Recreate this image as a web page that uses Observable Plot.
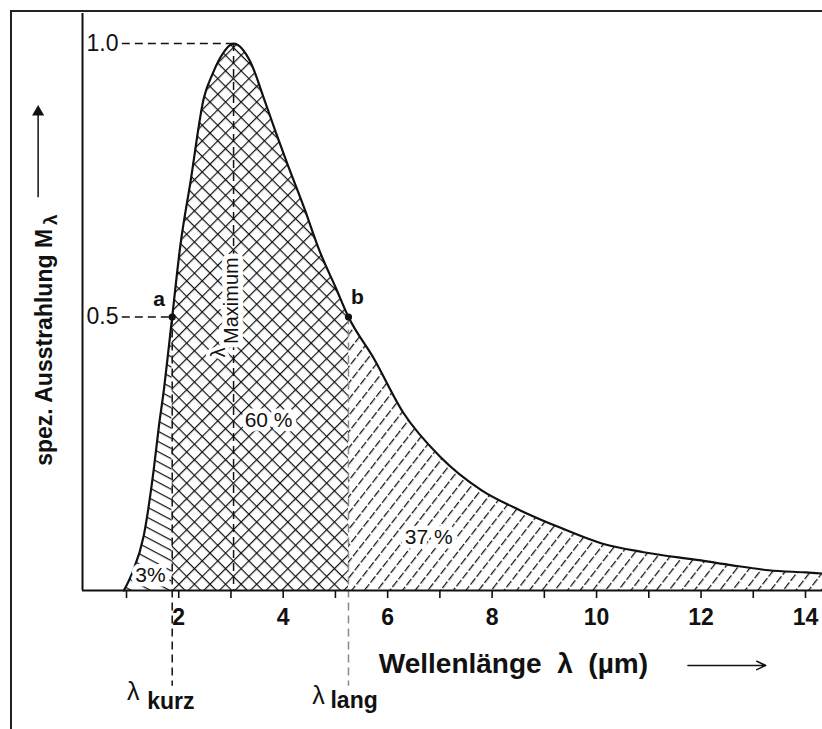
<!DOCTYPE html>
<html><head><meta charset="utf-8">
<script src="https://cdn.jsdelivr.net/npm/d3@7"></script>
<script src="https://cdn.jsdelivr.net/npm/@observablehq/plot@0.6"></script>
<style>
body{margin:0;background:#fff;}
#wrap{position:relative;width:822px;height:729px;overflow:hidden;}
#frame{position:absolute;left:10px;top:10px;right:-4px;bottom:-4px;border-top:2px solid #222;border-left:2px solid #222;pointer-events:none;}
</style></head><body><div id="wrap"><div id="chart"></div><div id="frame"></div></div>
<script>
// Spectral radiant exitance curve (relative)
const wavelength = [0.95, 1.1, 1.33, 1.52, 1.62, 1.72, 1.81, 1.875, 2.03, 2.23, 2.48, 2.65, 2.8, 3.05, 3.38, 3.63, 3.85, 4.08, 4.4, 4.7, 5.0, 5.25, 5.73, 6.3, 7.0, 7.8, 8.55, 9.3, 10.1, 10.9, 12.0, 12.6, 13.3, 14.0, 14.33];
const radiance   = [0, 0.03, 0.1, 0.22, 0.3, 0.37, 0.445, 0.5, 0.63, 0.75, 0.9, 0.945, 0.975, 1.0, 0.965, 0.9, 0.84, 0.78, 0.7, 0.62, 0.555, 0.5, 0.425, 0.325, 0.245, 0.183, 0.146, 0.115, 0.086, 0.07, 0.055, 0.046, 0.037, 0.033, 0.031];

const lambdaKurz = 1.875, lambdaMax = 3.05, lambdaLang = 5.25;
const xTicks = [1,2,3,4,5,6,7,8,9,10,11,12,13,14];
const xTickLabels = ["", "2", "", "4", "", "6", "", "8", "", "10", "", "12", "", "14"];
const yRefValues = [1.0, 0.5];
const yRefLabels = ["1.0", "0.5"];
const pointNames = ["a", "b"];
const pointX = [lambdaKurz, lambdaLang];
const pointY = [0.5, 0.5];
const shareLabels = ["3%", "60 %", "37 %"];
const shareX = [1.46, 3.72, 6.785];
const shareY = [0.027, 0.311, 0.097];

const data = wavelength.map((x, i) => ({x, y: radiance[i]}));
const leftPart = data.filter(d => d.x <= lambdaKurz);
const midPart = data.filter(d => d.x >= lambdaKurz && d.x <= lambdaLang);
const rightPart = data.filter(d => d.x >= lambdaLang);
const points = pointNames.map((n, i) => ({name: n, x: pointX[i], y: pointY[i]}));
const shares = shareLabels.map((t, i) => ({t, x: shareX[i], y: shareY[i]}));
const xDom = [0.1576, 14.3255], yDom = [0, 1.055];
const ink = "#111";
const F = "'Liberation Sans', Arial, Helvetica, sans-serif";

const chart = Plot.plot({
  width: 822, height: 729,
  marginLeft: 82, marginRight: 0, marginTop: 13, marginBottom: 139,
  x: {domain: xDom, axis: null},
  y: {domain: yDom, axis: null},
  style: {fontFamily: F, background: "#fff", color: ink},
  marks: [
    Plot.areaY(leftPart, {x: "x", y: "y", curve: "monotone-x", fill: "url(#hBack)"}),
    Plot.areaY(midPart, {x: "x", y: "y", curve: "monotone-x", fill: "url(#hCross)"}),
    Plot.areaY(rightPart, {x: "x", y: "y", curve: "monotone-x", fill: "url(#hFwd)"}),
    // horizontal reference dashes
    Plot.ruleY(yRefValues.map((v, i) => ({y: v, x2: i === 0 ? lambdaMax : lambdaKurz})),
      {y: "y", x1: 0.92, x2: "x2", stroke: ink, strokeWidth: 1.5, strokeDasharray: "8,5"}),
    // vertical dashes
    Plot.ruleX([lambdaKurz], {y1: 0.5, y2: -0.175, stroke: ink, strokeWidth: 1.5, strokeDasharray: "8,5"}),
    Plot.ruleX([lambdaLang], {y1: 0.5, y2: -0.175, stroke: "#8a8a8a", strokeWidth: 1.5, strokeDasharray: "8,5"}),
    Plot.ruleX([lambdaMax], {y1: 1.0, y2: 0, stroke: ink, strokeWidth: 1.5, strokeDasharray: "8,5"}),
    Plot.line(data, {x: "x", y: "y", curve: "monotone-x", stroke: ink, strokeWidth: 2.2}),
    Plot.ruleY([0], {stroke: ink, strokeWidth: 2}),
    Plot.ruleX([xDom[0]], {stroke: ink, strokeWidth: 2}),
    Plot.axisX({ticks: xTicks, tickSize: 8, tickPadding: 10, strokeWidth: 1.6,
      tickFormat: (d) => xTickLabels[xTicks.indexOf(d)], fontSize: 23, fontWeight: "bold", label: null}),
    Plot.dot(points, {x: "x", y: "y", r: 3.6, fill: ink}),
    Plot.text(points.slice(0, 1), {x: "x", y: "y", text: "name", dx: -13, dy: -18, fontSize: 21, fontWeight: "bold", fill: ink}),
    Plot.text(points.slice(1), {x: "x", y: "y", text: "name", dx: 9, dy: -20, fontSize: 21, fontWeight: "bold", fill: ink}),
    // y reference labels
    Plot.text(yRefValues.map((v, i) => ({y: v, t: yRefLabels[i]})),
      {x: xDom[0], y: "y", text: "t", textAnchor: "start", dx: 4, fontSize: 23, fill: ink}),
    // percentage labels
    Plot.text(shares, {x: "x", y: "y", text: "t", fontSize: 21, fill: ink, stroke: "#fff", strokeWidth: 9, paintOrder: "stroke"}),
    // lambda maximum label
    Plot.text(["Maximum"], {x: lambdaMax, y: 0.53, text: d => d, rotate: -90, dx: -2, fontSize: 20, fill: ink, stroke: "#fff", strokeWidth: 10, paintOrder: "stroke"}),
    Plot.text(["λ"], {x: lambdaMax, y: 0.435, text: d => d, rotate: -90, dx: -15, fontSize: 20, fill: ink, stroke: "#fff", strokeWidth: 8, paintOrder: "stroke"}),
    // lambda kurz / lang below axis
    Plot.text(["λ"], {x: lambdaKurz, y: -0.186, text: d => d, dx: -39, fontSize: 25, fill: ink}),
    Plot.text(["kurz"], {x: lambdaKurz, y: -0.2025, text: d => d, dx: -25, textAnchor: "start", fontSize: 23, fontWeight: "bold", fill: ink}),
    Plot.text(["λ"], {x: lambdaLang, y: -0.192, text: d => d, dx: -30, fontSize: 25, fill: ink}),
    Plot.text(["lang"], {x: lambdaLang, y: -0.2005, text: d => d, dx: -18, textAnchor: "start", fontSize: 23, fontWeight: "bold", fill: ink}),
    // x axis title + arrow
    Plot.text(["Wellenlänge\u00a0\u00a0λ\u00a0\u00a0(µm)"], {x: 5.83, y: -0.135, text: d => d, textAnchor: "start", fontSize: 28, fontWeight: "bold", fill: ink}),
    Plot.arrow([{x1: 11.75, x2: 13.24, y: -0.137}], {x1: "x1", x2: "x2", y1: "y", y2: "y", stroke: ink, strokeWidth: 1.5, headLength: 10, headAngle: 50}),
    // y axis title + arrow
    Plot.text(["spez. Ausstrahlung M"], {x: -0.571, y: 0.228, text: d => d, rotate: -90, textAnchor: "start", fontSize: 23, fontWeight: "bold", fill: ink}),
    Plot.text(["λ"], {x: -0.571, y: 0.678, text: d => d, rotate: -90, dx: 6, fontSize: 19, fontWeight: "bold", fill: ink}),
    Plot.ruleX([-0.692], {y1: 0.718, y2: 0.87, stroke: ink, strokeWidth: 1.5}),
    Plot.dot([{x: -0.692, y: 0.875}], {x: "x", y: "y", symbol: "triangle", r: 4.5, fill: ink})
  ]
});

const defs = d3.select(chart).insert("defs", ":first-child");
defs.html(`
  <pattern id="hCross" patternUnits="userSpaceOnUse" width="11" height="11" patternTransform="rotate(45)">
    <rect width="11" height="11" fill="#fff"/>
    <line x1="0" y1="0" x2="11" y2="0" stroke="#111" stroke-width="2.4"/>
    <line x1="0" y1="0" x2="0" y2="11" stroke="#111" stroke-width="2.4"/>
  </pattern>
  <pattern id="hFwd" patternUnits="userSpaceOnUse" width="10" height="10" patternTransform="rotate(-52)">
    <rect width="10" height="10" fill="#fff"/>
    <line x1="0" y1="0" x2="10" y2="0" stroke="#111" stroke-width="2.4" stroke-dasharray="7,2"/>
  </pattern>
  <pattern id="hBack" patternUnits="userSpaceOnUse" width="9" height="9" patternTransform="rotate(28)">
    <rect width="9" height="9" fill="#fff"/>
    <line x1="0" y1="0" x2="9" y2="0" stroke="#111" stroke-width="2.4"/>
  </pattern>`);

document.getElementById("chart").appendChild(chart);
</script></body></html>
